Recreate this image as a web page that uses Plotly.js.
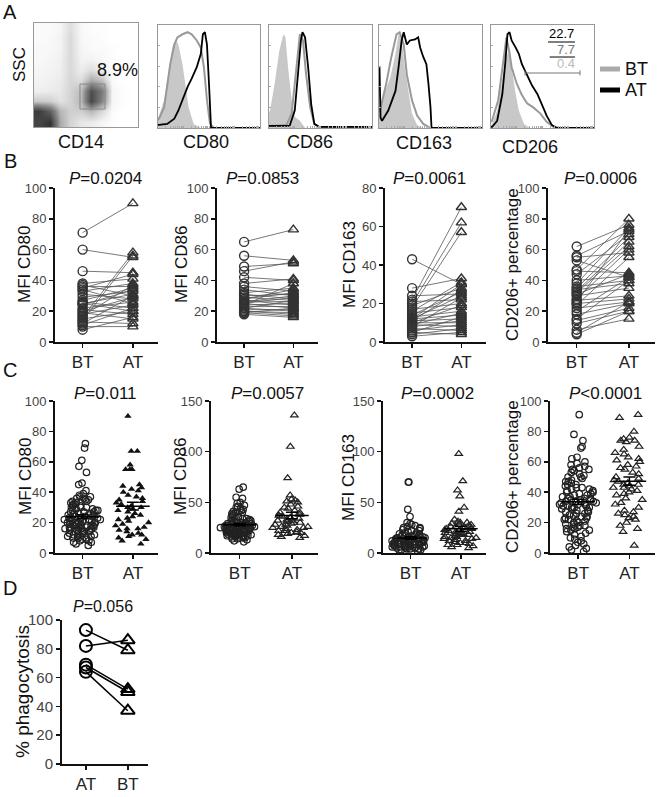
<!DOCTYPE html>
<html><head><meta charset="utf-8">
<script src="https://cdn.plot.ly/plotly-3.0.1.min.js"></script>
<style>html,body{margin:0;padding:0;background:#fff}#chart{width:660px;height:797px}</style>
</head><body><div id="chart"></div>
<script>
// ---------- Panel A: flow dot-plot density (SSC vs CD14), read as a coarse grid ----------
const flowX = [0.5,1.5,2.5,3.5,4.5,5.5,6.5,7.5,8.5,9.5];
const flowY = [9.5,8.5,7.5,6.5,5.5,4.5,3.5,2.5,1.5,0.5];
const flowDensity = [
  [0.02,0.02,0.04,0.14,0.03,0.01,0.01,0,0,0],
  [0.02,0.03,0.05,0.16,0.03,0.02,0.01,0,0,0],
  [0.03,0.03,0.05,0.16,0.04,0.02,0.02,0.01,0,0],
  [0.03,0.04,0.06,0.16,0.05,0.05,0.03,0.01,0,0],
  [0.04,0.05,0.07,0.16,0.08,0.14,0.08,0.01,0,0],
  [0.05,0.06,0.08,0.17,0.14,0.35,0.25,0.02,0,0],
  [0.07,0.08,0.10,0.18,0.28,0.80,0.55,0.04,0.01,0],
  [0.22,0.20,0.12,0.18,0.30,0.85,0.50,0.04,0.01,0],
  [0.90,0.70,0.30,0.20,0.20,0.30,0.16,0.02,0,0],
  [0.85,0.95,0.35,0.18,0.10,0.08,0.04,0.01,0,0]
];
// ---------- Panel A: histograms (x: % of axis, y: % of max) ----------
const cd80IsoX = [0,1,6,11,14,17,20,24,27,30,35,42,100];
const cd80IsoY = [10,12,27,59,78,86,81,62,40,20,4,0,0];
const cd80BtX = [0,1,6,9,12,16,19,24,29,33,38,42,45,48,51,55,100];
const cd80BtY = [8,9,20,40,62,81,88,91,93,91,85,78,59,27,4,0,0];
const cd80AtX = [0,1,9,16,20,24,29,33,38,42,44,46,48,50,52,100];
const cd80AtY = [3,3,4,9,17,28,40,48,59,72,91,93,81,43,0,0];

const cd86IsoX = [0,1,5.5,10,14,16,18.5,22,25,30,35,100];
const cd86IsoY = [15,17,43,75,91,88,59,27,11,7,0,0];
const cd86BtX = [0,17,22,25,28,30,33,36,40,44,49,100];
const cd86BtY = [2,3,14,43,75,91,85,52,20,4,0,0];
const cd86AtX = [0,20,25,28,31,32.5,35,38,41,44,49,100];
const cd86AtY = [2,2,17,49,85,93,88,59,23,4,1,1];

const cd163IsoX = [0,1,6,11,16,19,22,25,29,32,37,42,100];
const cd163IsoY = [20,20,36,49,72,92,85,59,33,14,3,0,0];
const cd163BtX = [0,1,7,12,17,20,24,27,32,37,43,50,100];
const cd163BtY = [17,17,43,69,91,93,81,52,27,12,4,0,0];
const cd163AtX = [0,0.5,1.5,3,9,16,19,22,24,27,30,35,38,40,43,46,48,50,51,100];
const cd163AtY = [58,58,10,7,17,36,59,85,93,81,85,86,88,78,69,62,43,20,0,0];

const cd206IsoX = [0,1,6,11,14,17,20,24,27,32,38,100];
const cd206IsoY = [3,4,17,46,65,75,59,33,17,4,0,0];
const cd206BtX = [0,1,7,12,15,18,20,25,30,35,41,48,54,61,67,100];
const cd206BtY = [6,7,27,65,88,73,59,43,32,24,20,14,6,1,0,0];
const cd206AtX = [0,1,6,11,14,16,18,20,24,27,30,35,40,45,49,54,59,64,100];
const cd206AtY = [1,1,7,33,65,91,93,85,78,72,62,51,41,33,23,12,3,0,0];

// ---------- Panel B: paired values ----------
const groupLabels = ['BT','AT'];
const bCd80BT = [71,60,46,38,37,36,35,34,33,31,29,27,26,25,25,24,22,21,20,19,18,17,16,15,14,13,12,11,10,8];
const bCd80AT = [90,55,45,41,30,36,44,25,38,28,33,35,22,31,20,34,26,18,29,15,24,37,58,20,56,12,30,22,10,16];
const bCd86BT = [65,56,49,46,42,38,36,34,32,31,30,29,28,27,27,26,25,25,24,23,22,22,21,20,20,19,19,18,24,28];
const bCd86AT = [73,53,51,52,40,41,33,30,35,28,31,27,34,26,24,30,22,29,25,23,20,27,21,19,18,17,22,16,38,32];
const bCd163BT = [43,28,24,22,21,20,19,18,17,16,15,14,13,12,12,11,11,10,10,9,9,8,8,7,6,5,5,4,3,12];
const bCd163AT = [30,33,25,70,22,62,28,57,20,31,18,26,16,14,24,12,27,10,19,8,15,11,23,6,9,4,13,7,5,30];
const bCd206BT = [62,56,55,53,47,46,44,40,38,36,35,34,33,32,31,30,28,27,26,25,24,22,20,18,15,14,12,8,6,5];
const bCd206AT = [76,72,58,42,80,45,70,43,74,40,68,38,65,62,44,35,60,30,73,28,55,26,42,25,40,22,20,15,26,20];

// ---------- Panel C: unpaired values ----------
const cCd80BT = [72,69,61,57,53,46,45,41,39,38,37,37,36,36,35,35,34,34,33,33,32,32,31,31,30,30,30,29,29,28,28,28,27,27,27,26,26,26,25,25,25,25,24,24,24,23,23,23,23,22,22,22,22,21,21,21,21,20,20,20,20,19,19,19,19,18,18,18,18,17,17,17,17,16,16,16,16,15,15,15,15,14,14,14,13,13,13,12,12,12,11,11,11,10,10,10,9,9,8,8,7,7,6,5];
const cCd80AT = [90,67,67,58,55,55,55,45,44,43,42,41,40,38,37,36,35,34,33,32,31,30,30,29,28,27,26,25,24,23,22,21,20,19,18,17,16,16,15,14,13,12,12,11,10,9,8,6];
const cCd86BT = [65,63,55,54,50,49,47,46,45,44,43,42,41,40,40,39,38,37,37,36,35,35,34,34,33,33,32,32,31,31,30,30,30,29,29,28,28,28,27,27,27,26,26,26,25,25,25,25,24,24,24,23,23,23,22,22,22,21,21,21,20,20,20,19,19,19,18,18,18,17,17,16,16,15,15,14,14,13,12,11,30,29,28,27,26,25,24,23,22,21,20,19,18,17,16,15,24,25,26,27];
const cCd86AT = [136,105,74,57,53,52,51,50,48,46,45,44,42,40,40,38,37,36,35,34,33,32,32,31,30,30,29,28,28,27,26,26,25,25,24,23,22,22,21,20,20,19,18,17,16,15];
const cCd163BT = [70,70,43,36,30,29,28,27,26,25,25,24,23,22,22,21,20,20,19,19,18,18,17,17,17,16,16,16,15,15,15,14,14,14,14,13,13,13,13,12,12,12,12,12,11,11,11,11,11,10,10,10,10,10,9,9,9,9,9,8,8,8,8,8,7,7,7,7,7,6,6,6,6,5,5,5,5,4,4,4,3,3,3,2];
const cCd163AT = [98,71,62,56,45,41,33,31,30,30,29,28,28,27,26,26,25,25,24,24,23,22,22,21,21,20,20,19,19,18,18,17,16,16,15,15,14,14,13,12,12,11,10,10,9,8,8,7,6,5];
const cCd206BT = [91,78,74,70,69,63,62,60,59,58,57,56,55,55,54,53,52,51,50,50,49,48,47,47,46,45,45,44,43,43,42,42,41,41,40,40,39,39,38,38,37,37,36,36,36,35,35,35,34,34,34,33,33,33,32,32,32,31,31,31,30,30,30,29,29,28,28,27,27,26,26,25,25,24,24,23,23,22,22,21,21,20,20,19,19,18,18,17,17,16,16,15,15,14,13,12,11,10,9,8,7,6,5,4,3,2,1];
const cCd206AT = [91,89,80,76,75,74,74,73,70,68,66,65,63,62,61,60,58,57,56,55,53,52,50,49,48,47,46,45,45,44,43,43,42,41,40,39,38,36,35,33,32,30,28,27,26,25,24,23,22,20,18,16,14,5];

// ---------- Panel D ----------
const dLabels = ['AT','BT'];
const dAT = [93,82,69,67,64];
const dBT = [79,86,52,50,37];

// ================= helpers =================
const W = 660, H = 797;
const FONT = 'Liberation Sans, Arial, sans-serif';
const dx = (a,b) => [a/W, b/W];
const dy = (top,bottom) => [1-bottom/H, 1-top/H];
const traces = [];
const layout = {
  width: W, height: H, margin:{l:0,r:0,t:0,b:0},
  paper_bgcolor:'#fff', plot_bgcolor:'#fff', showlegend:false,
  boxmode:'overlay', font:{family:FONT, color:'#111'},
  annotations:[], shapes:[]
};
function ann(text, x, y, o) {
  o = o || {};
  layout.annotations.push(Object.assign({
    text, x:x/W, y:1-y/H, xref:'paper', yref:'paper', showarrow:false,
    xanchor:'center', yanchor:'middle',
    font:{family:FONT, size:o.size||17, color:o.color||'#111'}
  }, o.extra||{}, o.angle!==undefined ? {textangle:o.angle} : {}));
}

// ---------- flow plot ----------
layout.xaxis = {domain:dx(34,138), anchor:'y', range:[0,10], showline:true, mirror:true, linecolor:'#999', linewidth:1, showticklabels:false, ticks:'', showgrid:false, zeroline:false};
layout.yaxis = {domain:dy(23,127), anchor:'x', range:[0,10], showline:true, mirror:true, linecolor:'#999', linewidth:1, showticklabels:false, ticks:'', showgrid:false, zeroline:false};
traces.push({type:'heatmap', x:flowX, y:flowY, z:flowDensity, zsmooth:'best', zmin:0, zmax:1, showscale:false,
  colorscale:[[0,'#ffffff'],[0.05,'#f3f3f3'],[0.2,'#cfcfcf'],[0.5,'#858585'],[1,'#2a2a2a']], xaxis:'x', yaxis:'y', hoverinfo:'skip'});
layout.shapes.push({type:'rect', xref:'x', yref:'y', x0:4.42, x1:6.83, y0:1.73, y1:4.13, line:{color:'#888', width:1}});

// ---------- histograms ----------
const logTicks = [];
for (let d=0; d<4; d++) for (let k=1; k<10; k++) logTicks.push(25*(d+Math.log10(k)));
logTicks.push(100);
const hists = [
  {dom:[158,260], iso:[cd80IsoX,cd80IsoY], bt:[cd80BtX,cd80BtY], at:[cd80AtX,cd80AtY]},
  {dom:[269,372], iso:[cd86IsoX,cd86IsoY], bt:[cd86BtX,cd86BtY], at:[cd86AtX,cd86AtY]},
  {dom:[379,482], iso:[cd163IsoX,cd163IsoY], bt:[cd163BtX,cd163BtY], at:[cd163AtX,cd163AtY]},
  {dom:[491,594], iso:[cd206IsoX,cd206IsoY], bt:[cd206BtX,cd206BtY], at:[cd206AtX,cd206AtY]}
];
hists.forEach((h,i) => {
  const n = i+2;
  layout['xaxis'+n] = {domain:dx(h.dom[0],h.dom[1]), anchor:'y'+n, range:[0,100], showline:true, mirror:true, linecolor:'#999', linewidth:1,
    ticks:'inside', ticklen:2, tickwidth:1, tickcolor:'#aaa', tickvals:logTicks, showticklabels:false, showgrid:false, zeroline:false};
  layout['yaxis'+n] = {domain:dy(25,128), anchor:'x'+n, range:[0,100], showline:true, mirror:true, linecolor:'#999', linewidth:1,
    ticks:'inside', ticklen:2, tickwidth:1, tickcolor:'#aaa', tickvals:[0,20,40,60,80,100], showticklabels:false, showgrid:false, zeroline:false};
  const ax = {xaxis:'x'+n, yaxis:'y'+n, hoverinfo:'skip', type:'scatter', mode:'lines'};
  traces.push(Object.assign({x:h.iso[0], y:h.iso[1], fill:'tozeroy', fillcolor:'#c8c8c8', line:{width:0, color:'#c8c8c8'}}, ax));
  traces.push(Object.assign({x:h.bt[0], y:h.bt[1], line:{width:2, color:'#999'}}, ax));
  traces.push(Object.assign({x:h.at[0], y:h.at[1], line:{width:1.8, color:'#000'}}, ax));
});
// CD206 gate and numbers
layout.shapes.push({type:'line', xref:'x5', yref:'y5', x0:33, x1:86.4, y0:53.4, y1:53.4, line:{color:'#777', width:1}});
layout.shapes.push({type:'line', xref:'x5', yref:'y5', x0:33, x1:33, y0:51, y1:56, line:{color:'#777', width:1}});
layout.shapes.push({type:'line', xref:'x5', yref:'y5', x0:86.4, x1:86.4, y0:51, y1:56, line:{color:'#777', width:1}});
layout.shapes.push({type:'line', xref:'x5', yref:'y5', x0:55.3, x1:81.5, y0:83.5, y1:83.5, line:{color:'#000', width:1}});
layout.shapes.push({type:'line', xref:'x5', yref:'y5', x0:57, x1:81.5, y0:68.9, y1:68.9, line:{color:'#000', width:1}});
ann('22.7', 561, 33, {size:13, color:'#000'});
ann('7.7', 566, 50, {size:13, color:'#777'});
ann('0.4', 566, 64, {size:13, color:'#bbb'});
// legend
layout.shapes.push({type:'line', xref:'paper', yref:'paper', x0:600/W, x1:620/W, y0:1-69/H, y1:1-69/H, line:{color:'#aaa', width:5}});
layout.shapes.push({type:'line', xref:'paper', yref:'paper', x0:600/W, x1:620/W, y0:1-90/H, y1:1-90/H, line:{color:'#000', width:5}});
ann('BT', 623, 69, {size:18, extra:{xanchor:'left'}});
ann('AT', 623, 90, {size:18, extra:{xanchor:'left'}});

ann('A', 10, 12, {size:20});
ann('SSC', 19, 65, {size:17, angle:-90});
ann('CD14', 81, 142, {size:18});
ann('8.9%', 117, 70, {size:18});
ann('CD80', 206, 142, {size:18});
ann('CD86', 310, 142, {size:18});
ann('CD163', 424, 143, {size:18});
ann('CD206', 530, 147, {size:18});

// ---------- stat axes ----------
function statX(n, a, b, top, bottom, labels, fsize) {
  layout['xaxis'+n] = {domain:dx(a,b), anchor:'y'+n, type:'linear', range:[-0.55,1.5], tickvals:[0,1], ticktext:labels,
    showline:true, linecolor:'#111', linewidth:2, ticks:'outside', ticklen:4, tickwidth:1.5, tickcolor:'#111',
    tickfont:{family:FONT, size:fsize||17, color:'#222'}, showgrid:false, zeroline:false};
}
function statY(n, top, bottom, max, dtick, fsize) {
  const tv = []; for (let v=0; v<=max; v+=dtick) tv.push(v);
  layout['yaxis'+n] = {domain:dy(top,bottom), anchor:'x'+n, range:[0,max], tickvals:tv,
    showline:true, linecolor:'#111', linewidth:2, ticks:'outside', ticklen:4, tickwidth:1.5, tickcolor:'#111',
    tickfont:{family:FONT, size:fsize||13, color:'#444'}, showgrid:false, zeroline:false};
}

// ---------- Panel B ----------
const bPanels = [
  {n:6, dom:[55,158], bt:bCd80BT, at:bCd80AT, max:100, dt:20, p:'<i>P</i>=0.0204', px:105, title:'MFI CD80', tx:25},
  {n:7, dom:[217,318], bt:bCd86BT, at:bCd86AT, max:100, dt:20, p:'<i>P</i>=0.0853', px:262, title:'MFI CD86', tx:182},
  {n:8, dom:[385,486], bt:bCd163BT, at:bCd163AT, max:80, dt:20, p:'<i>P</i>=0.0061', px:429, title:'MFI CD163', tx:350},
  {n:9, dom:[548,655], bt:bCd206BT, at:bCd206AT, max:100, dt:20, p:'<i>P</i>=0.0006', px:600, title:'CD206+ percentage', tx:513}
];
bPanels.forEach(b => {
  statX(b.n, b.dom[0], b.dom[1], 188, 342, groupLabels);
  statY(b.n, 188, 342, b.max, b.dt);
  const lx = [], ly = [];
  b.bt.forEach((v,i) => { lx.push(0,1,null); ly.push(v, b.at[i], null); });
  const ax = {xaxis:'x'+b.n, yaxis:'y'+b.n, type:'scatter', hoverinfo:'skip', cliponaxis:false};
  traces.push(Object.assign({x:lx, y:ly, mode:'lines', line:{color:'#555', width:0.8}}, ax));
  traces.push(Object.assign({x:b.bt.map(()=>0), y:b.bt, mode:'markers', marker:{symbol:'circle-open', size:9, color:'#333', line:{width:1.4}}}, ax));
  traces.push(Object.assign({x:b.at.map(()=>1), y:b.at, mode:'markers', marker:{symbol:'triangle-up-open', size:9, color:'#333', line:{width:1.4}}}, ax));
  ann(b.p, b.px, 179, {size:17});
  ann(b.title, b.tx, 265, {size:17, angle:-90});
});
ann('B', 10, 161, {size:20});

// ---------- Panel C ----------
function meanSem(a) {
  const m = a.reduce((s,v)=>s+v,0)/a.length;
  const sd = Math.sqrt(a.reduce((s,v)=>s+(v-m)*(v-m),0)/(a.length-1));
  return [m, sd/Math.sqrt(a.length)];
}
const cPanels = [
  {n:10, dom:[55,158], bt:cCd80BT, at:cCd80AT, max:100, dt:20, filledAT:true, p:'<i>P</i>=0.011', px:105, title:'MFI CD80', tx:25},
  {n:11, dom:[211,318], bt:cCd86BT, at:cCd86AT, max:150, dt:50, p:'<i>P</i>=0.0057', px:267, title:'MFI CD86', tx:180},
  {n:12, dom:[383,486], bt:cCd163BT, at:cCd163AT, max:150, dt:50, p:'<i>P</i>=0.0002', px:437, title:'MFI CD163', tx:348},
  {n:13, dom:[550,655], bt:cCd206BT, at:cCd206AT, max:100, dt:20, p:'<i>P</i>&lt;0.0001', px:605, title:'CD206+ percentage', tx:512}
];
cPanels.forEach(c => {
  statX(c.n, c.dom[0], c.dom[1], 401, 553, groupLabels);
  statY(c.n, 401, 553, c.max, c.dt);
  const ax = {xaxis:'x'+c.n, yaxis:'y'+c.n, hoverinfo:'skip'};
  const boxBase = {type:'box', boxpoints:'all', jitter:1, pointpos:0, width:0.75, whiskerwidth:0,
    line:{width:0, color:'rgba(0,0,0,0)'}, fillcolor:'rgba(0,0,0,0)'};
  traces.push(Object.assign({}, boxBase, ax, {y:c.bt, x0:0, marker:{symbol:'circle-open', size:6.5, color:'#222', line:{width:1.2, color:'#222'}}}));
  traces.push(Object.assign({}, boxBase, ax, {y:c.at, x0:1,
    marker: c.filledAT ? {symbol:'triangle-up', size:6.5, color:'#111'} : {symbol:'triangle-up-open', size:6.5, color:'#222', line:{width:1.2, color:'#222'}}}));
  const mb = meanSem(c.bt), ma = meanSem(c.at);
  traces.push(Object.assign({type:'scatter', mode:'markers', x:[0,1], y:[mb[0], ma[0]], cliponaxis:false,
    marker:{symbol:'line-ew', size:24, color:'#000', line:{width:1.5, color:'#000'}},
    error_y:{type:'data', array:[mb[1], ma[1]], width:6, thickness:1.5, color:'#000'}}, ax));
  ann(c.p, c.px, 393, {size:17});
  ann(c.title, c.tx, 477, {size:17, angle:-90});
});
ann('C', 10, 370, {size:20});

// ---------- Panel D ----------
statX(14, 62, 148, 620, 764, dLabels, 17);
layout.xaxis14.range = [-0.57, 1.48];
statY(14, 620, 764, 100, 20, 15);
{
  const lx = [], ly = [];
  dAT.forEach((v,i) => { lx.push(0,1,null); ly.push(v, dBT[i], null); });
  const ax = {xaxis:'x14', yaxis:'y14', type:'scatter', hoverinfo:'skip', cliponaxis:false};
  traces.push(Object.assign({x:lx, y:ly, mode:'lines', line:{color:'#000', width:1.5}}, ax));
  traces.push(Object.assign({x:dAT.map(()=>0), y:dAT, mode:'markers', marker:{symbol:'circle-open', size:12, color:'#000', line:{width:2}}}, ax));
  traces.push(Object.assign({x:dBT.map(()=>1), y:dBT, mode:'markers', marker:{symbol:'triangle-up-open', size:12, color:'#000', line:{width:2}}}, ax));
}
ann('D', 10, 588, {size:20});
ann('<i>P</i>=0.056', 103, 606, {size:16});
ann('% phagocytosis', 22, 692, {size:19, angle:-90});

Plotly.newPlot('chart', traces, layout, {staticPlot:true, displayModeBar:false});
</script>
</body></html>
